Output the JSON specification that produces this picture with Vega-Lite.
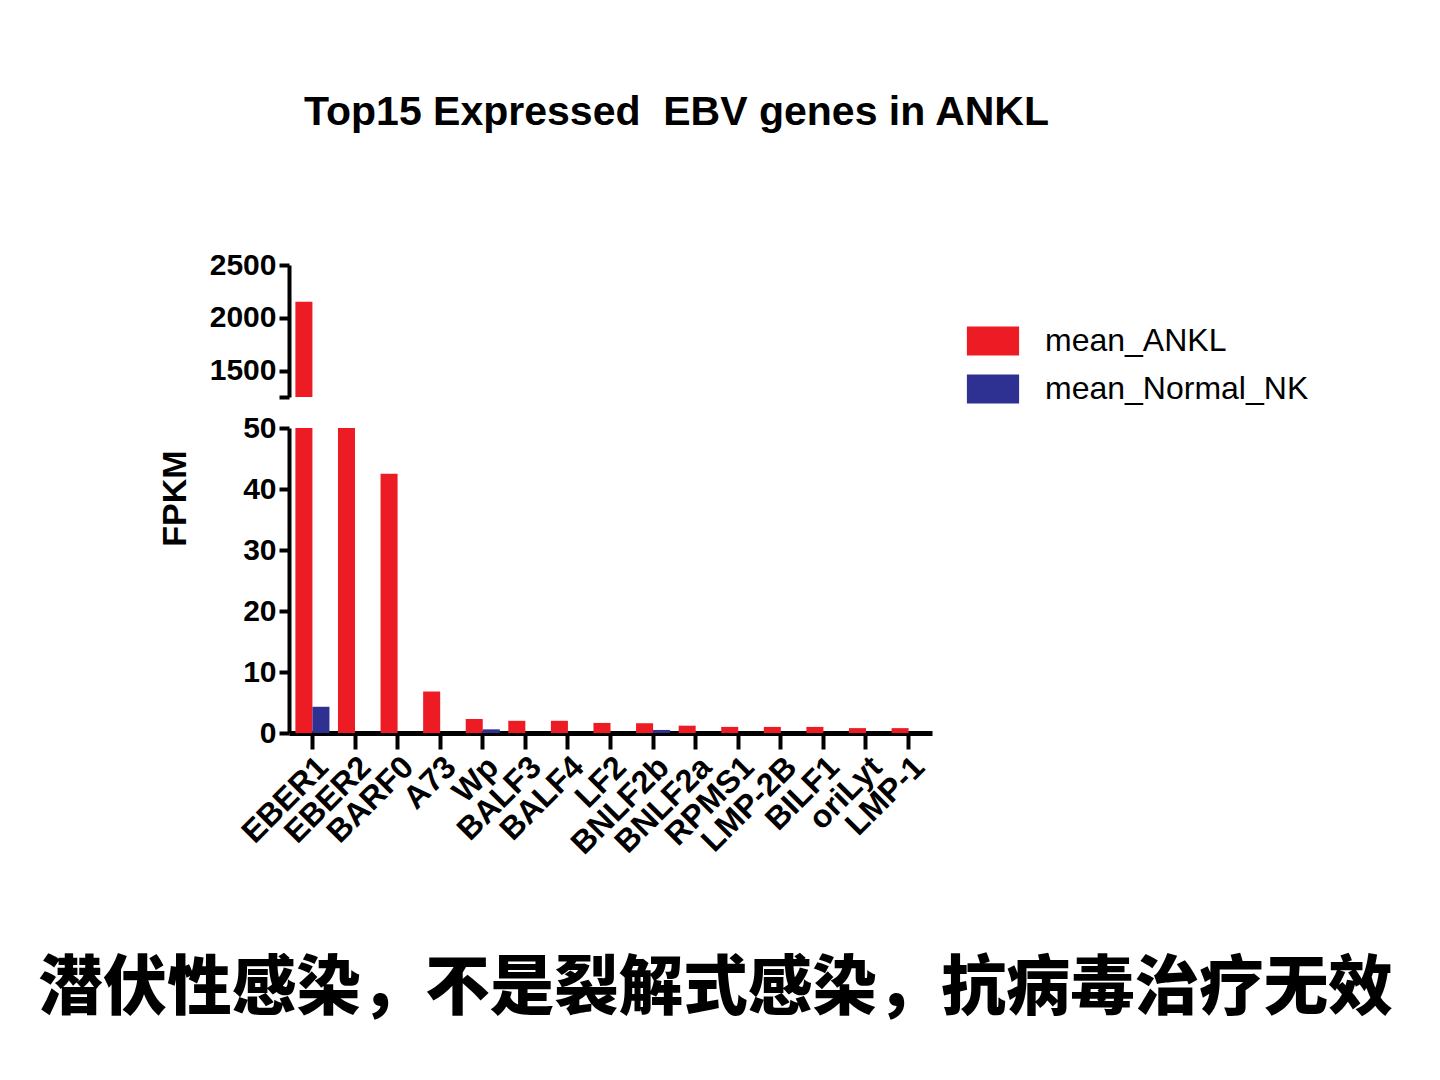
{
  "$schema": "https://vega.github.io/schema/vega-lite/v6.json",
  "background": "white",
  "padding": {"left": 38, "top": 92, "right": 10, "bottom": 10},
  "title": {
    "text": "潜伏性感染，不是裂解式感染，抗病毒治疗无效",
    "orient": "bottom",
    "anchor": "middle",
    "font": "Noto Sans CJK SC",
    "fontSize": 64.5,
    "fontWeight": 900,
    "color": "black",
    "offset": 98,
    "dx": -18
  },
  "data": {
    "values": [
      {"gene": "EBER1", "series": "mean_ANKL", "fpkm": 2151},
      {"gene": "EBER1", "series": "mean_Normal_NK", "fpkm": 4.3},
      {"gene": "EBER2", "series": "mean_ANKL", "fpkm": 600},
      {"gene": "EBER2", "series": "mean_Normal_NK", "fpkm": 0},
      {"gene": "BARF0", "series": "mean_ANKL", "fpkm": 42.5},
      {"gene": "BARF0", "series": "mean_Normal_NK", "fpkm": 0},
      {"gene": "A73", "series": "mean_ANKL", "fpkm": 6.8},
      {"gene": "A73", "series": "mean_Normal_NK", "fpkm": 0},
      {"gene": "Wp", "series": "mean_ANKL", "fpkm": 2.3},
      {"gene": "Wp", "series": "mean_Normal_NK", "fpkm": 0.6},
      {"gene": "BALF3", "series": "mean_ANKL", "fpkm": 2.0},
      {"gene": "BALF3", "series": "mean_Normal_NK", "fpkm": 0},
      {"gene": "BALF4", "series": "mean_ANKL", "fpkm": 2.0},
      {"gene": "BALF4", "series": "mean_Normal_NK", "fpkm": 0},
      {"gene": "LF2", "series": "mean_ANKL", "fpkm": 1.65},
      {"gene": "LF2", "series": "mean_Normal_NK", "fpkm": 0},
      {"gene": "BNLF2b", "series": "mean_ANKL", "fpkm": 1.6},
      {"gene": "BNLF2b", "series": "mean_Normal_NK", "fpkm": 0.5},
      {"gene": "BNLF2a", "series": "mean_ANKL", "fpkm": 1.2},
      {"gene": "BNLF2a", "series": "mean_Normal_NK", "fpkm": 0},
      {"gene": "RPMS1", "series": "mean_ANKL", "fpkm": 1.0},
      {"gene": "RPMS1", "series": "mean_Normal_NK", "fpkm": 0},
      {"gene": "LMP-2B", "series": "mean_ANKL", "fpkm": 1.0},
      {"gene": "LMP-2B", "series": "mean_Normal_NK", "fpkm": 0},
      {"gene": "BILF1", "series": "mean_ANKL", "fpkm": 1.0},
      {"gene": "BILF1", "series": "mean_Normal_NK", "fpkm": 0},
      {"gene": "oriLyt", "series": "mean_ANKL", "fpkm": 0.8},
      {"gene": "oriLyt", "series": "mean_Normal_NK", "fpkm": 0},
      {"gene": "LMP-1", "series": "mean_ANKL", "fpkm": 0.8},
      {"gene": "LMP-1", "series": "mean_Normal_NK", "fpkm": 0}
    ]
  },
  "spacing": 1,
  "vconcat": [
    {
      "width": 643,
      "height": 132,
      "title": {
        "text": "Top15 Expressed\u00a0 EBV genes in ANKL",
        "anchor": "start",
        "frame": "group",
        "dx": 15,
        "font": "Liberation Sans",
        "fontSize": 41,
        "fontWeight": "bold",
        "color": "black",
        "baseline": "alphabetic",
        "offset": 84
      },
      "mark": {"type": "bar", "clip": true},
      "encoding": {
        "x": {
          "field": "gene",
          "type": "nominal",
          "sort": null,
          "scale": {"paddingInner": 0.2, "paddingOuter": 0.15},
          "axis": null
        },
        "xOffset": {"field": "series", "type": "nominal", "sort": ["mean_ANKL", "mean_Normal_NK"]},
        "y": {
          "field": "fpkm",
          "type": "quantitative",
          "scale": {"domain": [1250, 2500], "nice": false, "zero": false},
          "axis": {
            "title": null,
            "values": [1250, 1500, 2000, 2500],
            "labelExpr": "datum.value == 1250 ? '' : datum.label",
            "format": "d",
            "grid": false,
            "domainColor": "black",
            "domainWidth": 4,
            "tickColor": "black",
            "tickWidth": 4,
            "tickSize": 10,
            "labelPadding": 3,
            "labelFont": "Liberation Sans",
            "labelFontSize": 30,
            "labelFontWeight": "bold",
            "labelColor": "black"
          }
        },
        "color": {
          "field": "series",
          "type": "nominal",
          "scale": {"domain": ["mean_ANKL", "mean_Normal_NK"], "range": ["#ED1C24", "#2E3192"]},
          "legend": {
            "title": null,
            "orient": "none",
            "legendX": 688,
            "legendY": 60,
            "symbolType": "M-1.8,-1H1.8V1H-1.8Z",
            "symbolSize": 841,
            "symbolStrokeWidth": 0,
            "symbolOpacity": 1,
            "labelOffset": 36,
            "labelLimit": 0,
            "rowPadding": 16,
            "labelFont": "Liberation Sans",
            "labelFontSize": 32,
            "labelColor": "black"
          }
        }
      }
    },
    {
      "width": 643,
      "height": 305,
      "mark": {"type": "bar", "clip": true},
      "encoding": {
        "x": {
          "field": "gene",
          "type": "nominal",
          "sort": null,
          "scale": {"paddingInner": 0.2, "paddingOuter": 0.15},
          "axis": {
            "title": null,
            "labelAngle": -45,
            "labelFont": "Liberation Sans",
            "labelFontSize": 32,
            "labelFontWeight": "bold",
            "labelColor": "black",
            "labelPadding": 2,
            "domainColor": "black",
            "domainWidth": 5,
            "tickColor": "black",
            "tickWidth": 4,
            "tickSize": 16
          }
        },
        "xOffset": {"field": "series", "type": "nominal", "sort": ["mean_ANKL", "mean_Normal_NK"]},
        "y": {
          "field": "fpkm",
          "type": "quantitative",
          "scale": {"domain": [0, 50], "nice": false},
          "axis": {
            "title": "FPKM",
            "titleFont": "Liberation Sans",
            "titleFontSize": 34,
            "titleFontWeight": "bold",
            "titleColor": "black",
            "titleX": -97,
            "titleY": 70,
            "values": [0, 10, 20, 30, 40, 50],
            "grid": false,
            "domainColor": "black",
            "domainWidth": 4,
            "tickColor": "black",
            "tickWidth": 4,
            "tickSize": 10,
            "labelPadding": 3,
            "labelFont": "Liberation Sans",
            "labelFontSize": 30,
            "labelFontWeight": "bold",
            "labelColor": "black"
          }
        },
        "color": {
          "field": "series",
          "type": "nominal",
          "scale": {"domain": ["mean_ANKL", "mean_Normal_NK"], "range": ["#ED1C24", "#2E3192"]},
          "legend": null
        }
      }
    }
  ],
  "config": {
    "view": {"stroke": null},
    "axis": {"labelOverlap": false}
  }
}
